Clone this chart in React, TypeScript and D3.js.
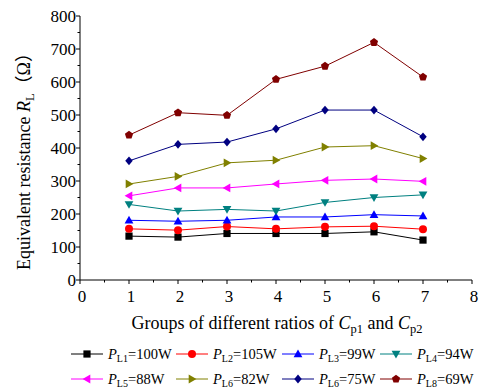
import React from "react";
import * as d3 from "d3";

const groups = [1, 2, 3, 4, 5, 6, 7];
const seriesNames = ["L1", "L2", "L3", "L4", "L5", "L6", "L6", "L8"];
const seriesPower = ["100W", "105W", "99W", "94W", "88W", "82W", "75W", "69W"];
const seriesColors = ["#000000", "#ff0000", "#0000ff", "#008080", "#ff00ff", "#808000", "#000080", "#800000"];
const seriesShapes = ["square", "circle", "up", "down", "left", "right", "diamond", "pentagon"];
const valsL1 = [133, 130, 141, 141, 141, 146, 121];
const valsL2 = [155, 151, 162, 155, 161, 163, 154];
const valsL3 = [181, 178, 181, 191, 191, 198, 194];
const valsL4 = [229, 209, 214, 209, 235, 250, 258];
const valsL5 = [255, 279, 279, 291, 302, 306, 299];
const valsL6 = [291, 314, 355, 363, 403, 407, 368];
const valsL7 = [361, 411, 418, 458, 515, 515, 434];
const valsL8 = [439, 507, 499, 608, 648, 720, 615];
const allVals = [valsL1, valsL2, valsL3, valsL4, valsL5, valsL6, valsL7, valsL8];
const xTicks = [0, 1, 2, 3, 4, 5, 6, 7, 8];
const yTicks = [0, 100, 200, 300, 400, 500, 600, 700, 800];

const FONT = "Liberation Serif, Times New Roman, serif";

function Marker({ shape, x, y, color }: { shape: string; x: number; y: number; color: string }) {
  const s = 3.6;
  if (shape === "square") return <rect x={x - s} y={y - s} width={2 * s} height={2 * s} fill={color} />;
  if (shape === "circle") return <circle cx={x} cy={y} r={s + 0.4} fill={color} />;
  const pts = (arr: number[][]) => arr.map((p) => `${x + p[0]},${y + p[1]}`).join(" ");
  const t = 4.4;
  if (shape === "up") return <polygon points={pts([[0, -t], [t, t * 0.75], [-t, t * 0.75]])} fill={color} />;
  if (shape === "down") return <polygon points={pts([[0, t], [t, -t * 0.75], [-t, -t * 0.75]])} fill={color} />;
  if (shape === "left") return <polygon points={pts([[-t, 0], [t * 0.75, -t], [t * 0.75, t]])} fill={color} />;
  if (shape === "right") return <polygon points={pts([[t, 0], [-t * 0.75, -t], [-t * 0.75, t]])} fill={color} />;
  if (shape === "diamond") return <polygon points={pts([[0, -t], [t * 0.85, 0], [0, t], [-t * 0.85, 0]])} fill={color} />;
  const r = 4.3;
  const p5 = d3.range(5).map((i) => {
    const a = -Math.PI / 2 + (i * 2 * Math.PI) / 5;
    return [r * Math.cos(a), r * Math.sin(a)];
  });
  return <polygon points={pts(p5)} fill={color} />;
}

export default function App() {
  const W = 482, H = 389;
  const x = d3.scaleLinear().domain([0, 8]).range([80, 472]);
  const y = d3.scaleLinear().domain([0, 800]).range([280, 16]);
  const line = d3.line<number>().x((_, i) => x(groups[i])).y((d) => y(d));
  const xMinor = d3.range(0.5, 8, 1);
  const yMinor = d3.range(50, 800, 100);
  const legCols = [71, 176, 282, 380];
  const legRows = [354, 379];

  return (
    <svg width={W} height={H} style={{ position: "absolute", left: 0, top: 0, background: "#fff", fontFamily: FONT }}>
      {/* axes */}
      <line x1={x(0)} x2={x(8)} y1={y(0)} y2={y(0)} stroke="#000" strokeWidth={1} />
      <line x1={x(0)} x2={x(0)} y1={y(0)} y2={y(800)} stroke="#000" strokeWidth={1} />
      {xTicks.map((t) => (
        <g key={"xt" + t}>
          <line x1={x(t)} x2={x(t)} y1={y(0)} y2={y(0) + 4} stroke="#000" />
          <text x={x(t) + 2} y={y(0) + 22} fontSize={17} textAnchor="middle">{t}</text>
        </g>
      ))}
      {xMinor.map((t) => (
        <line key={"xm" + t} x1={x(t)} x2={x(t)} y1={y(0)} y2={y(0) + 2.5} stroke="#000" />
      ))}
      {yTicks.map((t) => (
        <g key={"yt" + t}>
          <line x1={x(0) - 4} x2={x(0)} y1={y(t)} y2={y(t)} stroke="#000" />
          <text x={x(0) - 4} y={y(t) + 5.5} fontSize={17} textAnchor="end">{t}</text>
        </g>
      ))}
      {yMinor.map((t) => (
        <line key={"ym" + t} x1={x(0) - 2.5} x2={x(0)} y1={y(t)} y2={y(t)} stroke="#000" />
      ))}
      {/* titles */}
      <text x={277} y={329} fontSize={18} textAnchor="middle">
        Groups of different ratios of <tspan fontStyle="italic">C</tspan>
        <tspan fontSize={12.5} dy={4}>p1</tspan>
        <tspan dy={-4}> and </tspan>
        <tspan fontStyle="italic">C</tspan>
        <tspan fontSize={12.5} dy={4}>p2</tspan>
      </text>
      <text transform="translate(30,157) rotate(-90)" fontSize={18} textAnchor="middle">
        Equivalent resistance <tspan fontStyle="italic">R</tspan>
        <tspan fontSize={12.5} dy={4}>L</tspan>
        <tspan dy={-4} style={{ fontFamily: "Noto Sans CJK SC" }}>（</tspan>
        <tspan>Ω</tspan>
        <tspan style={{ fontFamily: "Noto Sans CJK SC" }}>）</tspan>
      </text>
      {/* series */}
      {allVals.map((vals, si) => (
        <g key={"s" + si}>
          <path d={line(vals) || ""} fill="none" stroke={seriesColors[si]} strokeWidth={1} />
          {vals.map((v, i) => (
            <Marker key={i} shape={seriesShapes[si]} x={x(groups[i])} y={y(v)} color={seriesColors[si]} />
          ))}
        </g>
      ))}
      {/* legend */}
      {seriesNames.map((nm, si) => {
        const lx = legCols[si % 4];
        const ly = legRows[Math.floor(si / 4)];
        return (
          <g key={"l" + si}>
            <line x1={lx} x2={lx + 32} y1={ly} y2={ly} stroke={seriesColors[si]} strokeWidth={1} />
            <Marker shape={seriesShapes[si]} x={lx + 16} y={ly} color={seriesColors[si]} />
            <text x={lx + 37} y={ly + 4.5} fontSize={14.5}>
              <tspan fontStyle="italic">P</tspan>
              <tspan fontSize={10} dy={3}>{nm}</tspan>
              <tspan dy={-3}>={seriesPower[si]}</tspan>
            </text>
          </g>
        );
      })}
    </svg>
  );
}
